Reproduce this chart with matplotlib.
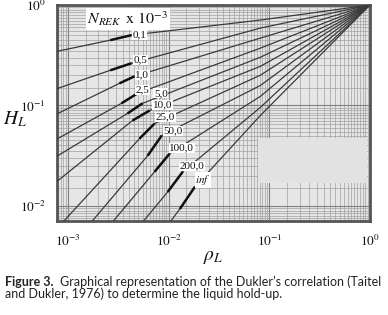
import numpy as np
import matplotlib
matplotlib.use("Agg")
import matplotlib.pyplot as plt
from matplotlib.patches import Rectangle

plt.rcParams['mathtext.fontset'] = 'stix'

# ---- data (rho_L, H_L) for each N_REK x 10^-3 ----
labels = ["0,1", "0,5", "1,0", "2,5", "5,0", "10,0", "25,0", "50,0", "100,0", "200,0", "inf"]

rho_01 = [0.00079, 0.00263, 0.00427, 0.0813, 1.0]
hl_01 = [0.347, 0.447, 0.501, 0.708, 1.0]
rho_05 = [0.00079, 0.00263, 0.00427, 0.0813, 1.0]
hl_05 = [0.148, 0.224, 0.263, 0.589, 1.0]
rho_1 = [0.00079, 0.00324, 0.00457, 0.0813, 1.0]
hl_1 = [0.0832, 0.166, 0.195, 0.468, 1.0]
rho_25 = [0.00079, 0.00339, 0.0049, 0.0813, 1.0]
hl_25 = [0.0468, 0.105, 0.132, 0.372, 1.0]
rho_5 = [0.00079, 0.00389, 0.0055, 0.0813, 1.0]
hl_5 = [0.0316, 0.0832, 0.105, 0.302, 1.0]
rho_10 = [0.00079, 0.00437, 0.00646, 0.0813, 1.0]
hl_10 = [0.0178, 0.0708, 0.0891, 0.245, 1.0]
rho_250 = [0.00091, 0.00513, 0.00724, 0.0813, 1.0]
hl_250 = [0.00708, 0.0468, 0.0661, 0.200, 1.0]
rho_50 = [0.00174, 0.00617, 0.00851, 0.0813, 1.0]
hl_50 = [0.00708, 0.0316, 0.0501, 0.158, 1.0]
rho_100 = [0.00282, 0.00724, 0.0102, 0.0813, 1.0]
hl_100 = [0.00708, 0.0219, 0.0331, 0.123, 1.0]
rho_200 = [0.00562, 0.00977, 0.0138, 0.0813, 1.0]
hl_200 = [0.00708, 0.0138, 0.0219, 0.0955, 1.0]
rho_inf = [0.0105, 0.0129, 0.0182, 0.0813, 1.0]
hl_inf = [0.00708, 0.00933, 0.0155, 0.0794, 1.0]

curves = [(rho_01, hl_01), (rho_05, hl_05), (rho_1, hl_1), (rho_25, hl_25),
          (rho_5, hl_5), (rho_10, hl_10), (rho_250, hl_250), (rho_50, hl_50),
          (rho_100, hl_100), (rho_200, hl_200), (rho_inf, hl_inf)]

xtick_vals = [1e-3, 1e-2, 1e-1, 1e0]
xtick_labels = [r"$10^{-3}$", r"$10^{-2}$", r"$10^{-1}$", r"$10^{0}$"]
ytick_vals = [1e-2, 1e-1, 1e0]
ytick_labels = [r"$10^{-2}$", r"$10^{-1}$", r"$10^{0}$"]

# label positions (axes fraction)
label_pos = [(0.265, 0.861), (0.268, 0.745), (0.272, 0.676), (0.272, 0.608),
             (0.332, 0.591), (0.337, 0.537), (0.347, 0.481), (0.371, 0.417),
             (0.399, 0.338), (0.431, 0.255), (0.466, 0.190)]

W, H = 388, 315
fig = plt.figure(figsize=(W / 100, H / 100), dpi=100)
fig.patch.set_facecolor("white")
ax = fig.add_axes([57 / W, 1 - 221 / H, 313 / W, 216 / H])
ax.set_xscale("log")
ax.set_yscale("log")
ax.set_xlim(10 ** -3.11, 1.0)
ax.set_ylim(10 ** -2.15, 1.0)
ax.set_facecolor("#e6e6e6")

# graph-paper grid
ax.xaxis.set_minor_locator(matplotlib.ticker.LogLocator(base=10, subs=np.arange(1.5, 10, 0.5), numticks=20))
ax.yaxis.set_minor_locator(matplotlib.ticker.LogLocator(base=10, subs=np.arange(1.5, 10, 0.5), numticks=20))
ax.grid(True, which="minor", color="#a0a0a0", lw=0.5)
ax.grid(True, which="major", color="#808080", lw=0.8)
ax.set_axisbelow(True)

ax.add_patch(Rectangle((0.642, 0.176), 0.348, 0.208, transform=ax.transAxes,
                       facecolor="#e2e2e2", edgecolor="none", zorder=2))

for (rx, hy) in curves:
    ax.plot(rx, hy, color="#3a3a3a", lw=0.9, zorder=3)
    ax.plot(rx[1:3], hy[1:3], color="#111111", lw=1.8, zorder=4, solid_capstyle="butt")

for lab, (px, py) in zip(labels, label_pos):
    txt = lab if lab != "inf" else r"$\mathit{inf}$"
    ax.text(px, py, txt, transform=ax.transAxes, ha="center", va="center",
            fontsize=8, family="Liberation Serif", color="#111111", zorder=6,
            bbox=dict(facecolor="white", edgecolor="none", pad=0.4))

ax.text(0.227, 0.935, r"$N_{\mathit{REK}}\ \,\mathrm{x}\ 10^{-3}$", transform=ax.transAxes,
        ha="center", va="center", fontsize=11.5, color="#111111", zorder=6,
        bbox=dict(facecolor="white", edgecolor="none", pad=1.0))

ax.set_xticks(xtick_vals)
ax.set_xticklabels(xtick_labels, fontsize=9.5)
ax.set_yticks(ytick_vals)
ax.set_yticklabels(ytick_labels, fontsize=9.5)
ax.tick_params(which="both", length=0, pad=9, colors="#111111")
ax.tick_params(axis="y", pad=8)

for sp in ax.spines.values():
    sp.set_color("#555555")
    sp.set_linewidth(2.0)

fig.text(15 / W, 1 - 119 / H, r"$H_L$", fontsize=14, ha="center", va="center", color="#111111")
fig.text(213 / W, 1 - 257 / H, r"$\rho_L$", fontsize=14, ha="center", va="center", color="#111111")

# caption
cap_font = "Lato"
t1 = fig.text(5 / W, 1 - 282 / H, "Figure 3.", fontsize=9, fontweight="bold",
              family=cap_font, ha="left", va="center", color="#222222")
fig.canvas.draw()
bb = t1.get_window_extent(renderer=fig.canvas.get_renderer())
fig.text((bb.x1 + 6) / W, 1 - 282 / H,
         "Graphical representation of the Dukler\u2019s correlation (Taitel",
         fontsize=9, family=cap_font, ha="left", va="center", color="#222222")
fig.text(5 / W, 1 - 294 / H, "and Dukler, 1976) to determine the liquid hold-up.",
         fontsize=9, family=cap_font, ha="left", va="center", color="#222222")

fig.savefig("out.png", dpi=100)
